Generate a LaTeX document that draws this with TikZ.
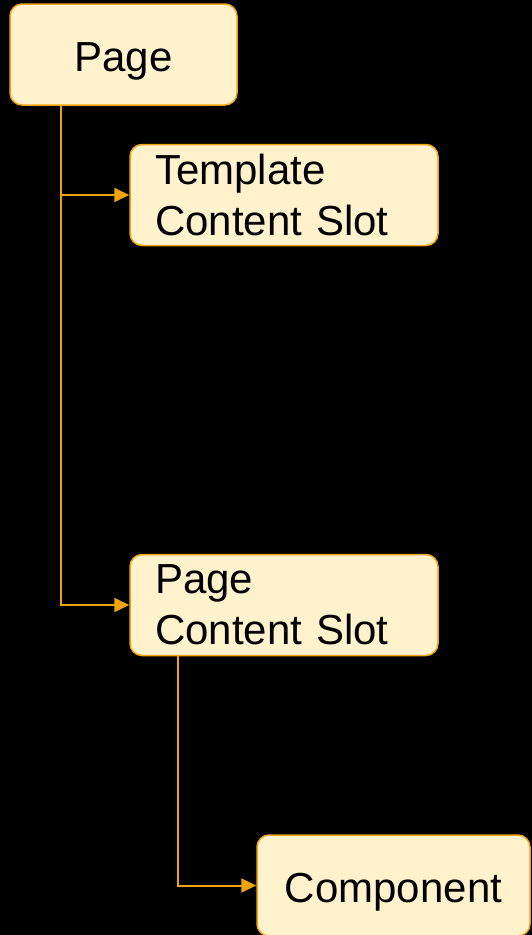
\documentclass[tikz,border=0pt]{standalone}
\usepackage{fontspec}
\setmainfont{Liberation Sans}
\usetikzlibrary{arrows.meta,calc}
\definecolor{slotfill}{HTML}{FFF2CC}
\definecolor{slotline}{HTML}{F0A30A}
\tikzstyle{block}=[draw=slotline,fill=slotfill,line width=1.5pt,rounded corners=12pt,minimum height=101pt,font=\fontsize{42}{51}\selectfont]
\tikzstyle{single}=[block,text height=39pt,text depth=5pt]
\tikzstyle{slot}=[block,inner xsep=25pt,text width=258pt,align=left]
\tikzstyle{link}=[draw=slotline,line width=2pt,-{Triangle[length=15pt,width=14pt]}]
\begin{document}
\begin{tikzpicture}[x=1pt,y=-1pt]
	\fill[black] (0,0) rectangle (532,935);
	\useasboundingbox (0,0) rectangle (532,935);
	\node[single,minimum width=227pt] (page) at (123.5,54.5) {Page};
	\node[slot] (template) at (284,195) {Template\\Content Slot};
	\node[slot] (pageslot) at (284,605) {Page\\Content Slot};
	\node[single,minimum width=273pt] (component) at (393.5,885.5) {Component};
	% trunk from the page box
	\coordinate (trunk) at ($(page.south)+(-62.5,0)$);
	\draw[link] (trunk) |- (template.west);
	\draw[link] (trunk) |- (pageslot.west);
	\draw[link] ($(pageslot.south)+(-106,0)$) |- (component.west);
\end{tikzpicture}
\end{document}
